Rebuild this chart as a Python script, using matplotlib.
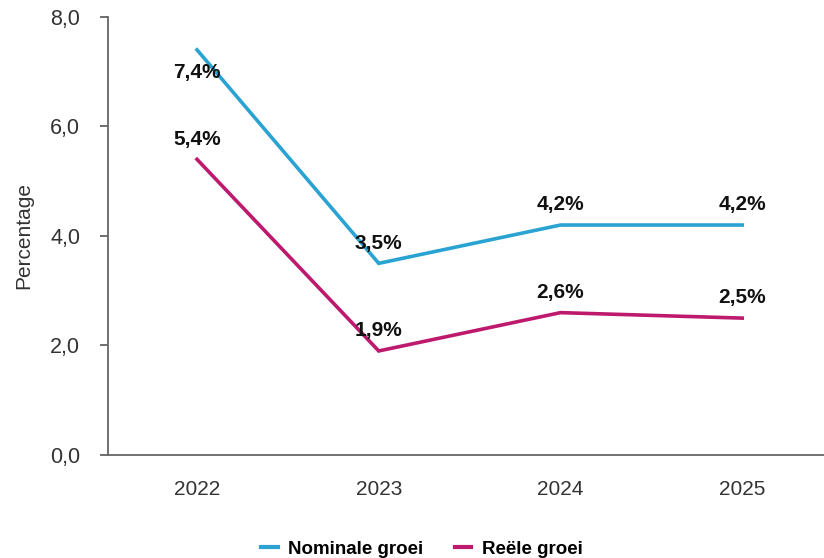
import matplotlib.pyplot as plt

plt.rcParams['font.family'] = ['Liberation Sans', 'DejaVu Sans']

jaren = ['2022', '2023', '2024', '2025']
nominaal = [7.4, 3.5, 4.2, 4.2]
reeel = [5.4, 1.9, 2.6, 2.5]

blauw = '#2aa3d3'
paars = '#bd1a6e'

fig = plt.figure(figsize=(8.24, 5.58), dpi=100)
ax = fig.add_axes([0.131, 0.1846, 0.869, 0.785])

x = range(len(jaren))
ax.plot(x, nominaal, color=blauw, lw=2.6, label='Nominale groei', solid_joinstyle='miter')
ax.plot(x, reeel, color=paars, lw=2.6, label='Reële groei', solid_joinstyle='miter')

def fmt(v):
    return f'{v:.1f}%'.replace('.', ',')

# labels boven de punten, behalve het eerste punt van de nominale lijn
for i, v in enumerate(nominaal):
    dy = -16.5 if i == 0 else 14.5
    ax.annotate(fmt(v), (i, v), xytext=(0, dy), textcoords='offset points',
                ha='center', va='center', fontsize=15, fontweight='bold', color='#111111')
for i, v in enumerate(reeel):
    ax.annotate(fmt(v), (i, v), xytext=(0, 14.5), textcoords='offset points',
                ha='center', va='center', fontsize=15, fontweight='bold', color='#111111')

ax.set_xlim(-0.49, 3.45)
ax.set_ylim(0, 8)
ax.set_xticks(list(x))
ax.set_xticklabels(jaren)
ax.set_yticks([0, 2, 4, 6, 8])
ax.set_yticklabels([f'{t:.1f}'.replace('.', ',') for t in [0, 2, 4, 6, 8]])
ax.tick_params(axis='x', length=0, pad=18, labelsize=15, labelcolor='#333333')
ax.tick_params(axis='y', length=6, width=1.2, color='#555555', pad=14,
               labelsize=15.5, labelcolor='#333333')
ax.set_ylabel('Percentage', fontsize=15, color='#333333', labelpad=12)

for s in ['top', 'right']:
    ax.spines[s].set_visible(False)
for s in ['left', 'bottom']:
    ax.spines[s].set_color('#666666')
    ax.spines[s].set_linewidth(1.3)

leg = fig.legend(loc='lower center', bbox_to_anchor=(0.512, -0.03), ncol=2, frameon=False,
                 handlelength=0.9, columnspacing=1.65, handletextpad=0.55,
                 prop={'size': 13.5, 'weight': 'bold'})
for h in leg.legend_handles:
    h.set_linewidth(3)

fig.savefig('out.png', dpi=100)
